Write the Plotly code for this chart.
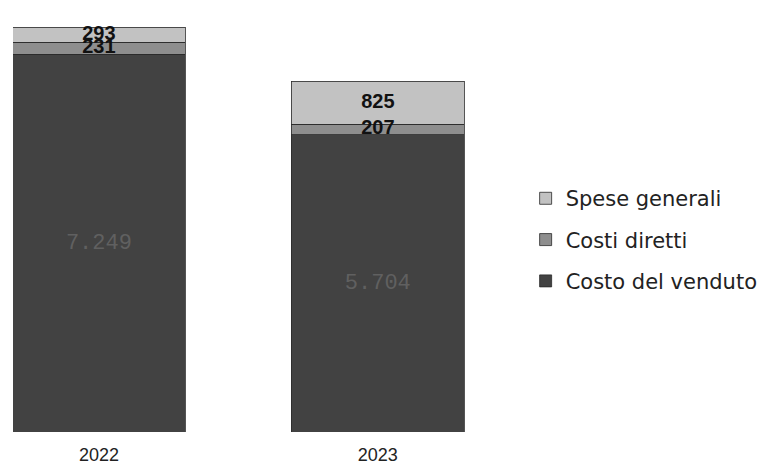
import plotly.graph_objects as go

# Data
anni = ["2022", "2023"]
costo_venduto = [7249, 5704]
costi_diretti = [231, 207]
spese_generali = [293, 825]

def fmt(v):
    return f"{v:,}".replace(",", ".")

fig = go.Figure()

serie = [
    ("Costo del venduto", costo_venduto, "#424242", 3),
    ("Costi diretti", costi_diretti, "#8e8e8e", 2),
    ("Spese generali", spese_generali, "#c2c2c2", 1),
]

for nome, valori, colore, rank in serie:
    fig.add_trace(go.Bar(
        x=anni, y=valori, name=nome, width=0.62, legendrank=rank, legendgroup=nome,
        marker=dict(color=colore, line=dict(color="#2a2a2a", width=0.8)),
    ))

# Labels centred on each segment
base = [0, 0]
for nome, valori, colore, rank in serie:
    mid = [b + v / 2 for b, v in zip(base, valori)]
    if nome == "Costo del venduto":
        font = dict(family="Liberation Mono, Courier New, monospace", size=22, color="#606060")
        testo = [fmt(v) for v in valori]
    else:
        font = dict(family="Liberation Sans, Arial", size=20, color="#111111")
        testo = ["<b>" + fmt(v) + "</b>" for v in valori]
    fig.add_trace(go.Scatter(
        x=anni, y=mid, mode="text", text=testo, textfont=font,
        showlegend=False, hoverinfo="skip", cliponaxis=False,
    ))
    base = [b + v for b, v in zip(base, valori)]

fig.update_layout(
    barmode="stack",
    width=768, height=470,
    margin=dict(l=5, r=288, t=19, b=46),
    plot_bgcolor="white", paper_bgcolor="white",
    xaxis=dict(range=[-0.308, 1.395], showgrid=False, showline=False, ticks="",
               ticklabelstandoff=10,
               tickfont=dict(family="Liberation Sans, Arial", size=18, color="#222222")),
    yaxis=dict(range=[0, 7773], visible=False),
    legend=dict(
        xref="container", yref="container", x=0.674, y=0.638,
        xanchor="left", yanchor="top",
        traceorder="grouped", tracegroupgap=11,
        font=dict(family="DejaVu Sans", size=21, color="#222222"),
        itemwidth=30,
    ),
    showlegend=True,
)

fig.write_html("out.html")
